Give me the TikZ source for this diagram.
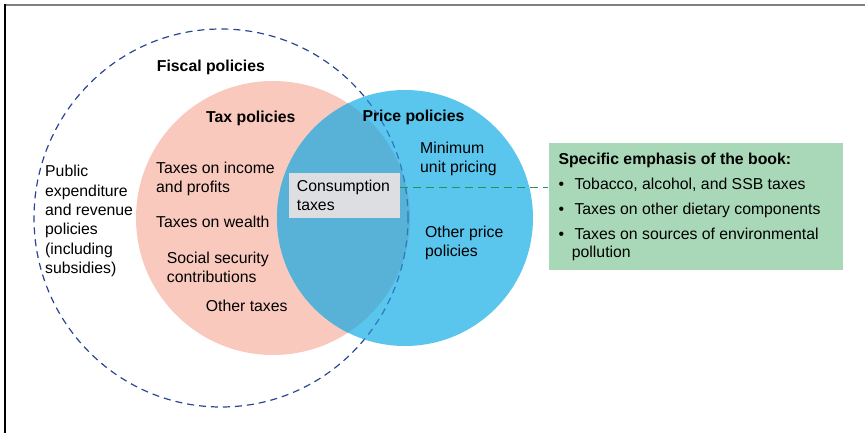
\documentclass[tikz,border=0pt]{standalone}
\usepackage{fontspec}
\setmainfont{Liberation Sans}
\usetikzlibrary{positioning}

\definecolor{taxpink}{RGB}{249,201,190}
\definecolor{priceblue}{RGB}{90,198,237}
\definecolor{bothblue}{RGB}{88,178,216}
\definecolor{fiscalnavy}{RGB}{40,70,145}
\definecolor{fiscalmid}{RGB}{45,120,190}
\definecolor{emphgreen}{RGB}{168,216,183}
\definecolor{linkgreen}{RGB}{30,150,85}
\definecolor{consgray}{RGB}{221,222,225}

\begin{document}
\begin{tikzpicture}[x=1pt, y=-1pt,
  lbl/.style={inner sep=0pt, anchor=north west, align=left,
    font=\fontsize{15.8}{19.3}\selectfont},
  head/.style={lbl, font=\fontsize{15.8}{19.3}\selectfont\bfseries},
  ring/.style={line width=1.2pt, dash pattern=on 7pt off 5pt},
  link/.style={linkgreen, line width=1.3pt, dash pattern=on 8pt off 5pt}]
  \useasboundingbox (0,0) rectangle (865,433);
  \draw[gray, line width=2pt] (5,4.7) -- (865,4.7);
  \draw[line width=1.3pt] (5,4) -- (5,433);

  \draw[ring, fiscalnavy] (221,218) ellipse [x radius=187pt, y radius=189pt];
  \fill[taxpink] (273,218) circle [radius=137pt];
  \fill[priceblue] (405,218) circle [radius=128pt];
  \begin{scope}
    \clip (273,218) circle [radius=137pt];
    \fill[bothblue] (405,218) circle [radius=128pt];
  \end{scope}
  \begin{scope}
    \clip (405,218) circle [radius=128pt];
    \draw[ring, fiscalmid] (221,218) ellipse [x radius=187pt, y radius=189pt];
  \end{scope}

  \node[head] (fiscal) at (156.7,59.6) {Fiscal policies};
  \node[head] (tax) at (206,110.9) {Tax policies};
  \node[head] (price) at (362.3,110.3) {Price policies};
  \node[lbl] (public) at (45,165.3) {Public\\expenditure\\and revenue\\policies\\(including\\subsidies)};
  \node[lbl] (income) at (156,161.9) {Taxes on income\\and profits};
  \node[lbl] (wealth) at (156,215.9) {Taxes on wealth};
  \node[lbl] (social) at (166.7,251.9) {Social security\\contributions};
  \node[lbl] (othertax) at (205.7,300.3) {Other taxes};
  \node[lbl] (minimum) at (420,141.9) {Minimum\\unit pricing};
  \node[lbl] (otherprice) at (425,225.9) {Other price\\policies};

  \node[lbl, fill=consgray, inner xsep=8.4pt, text width=94.2pt,
    minimum height=45pt, font=\fontsize{15.8}{18.6}\selectfont] (cons) at (288.3,172.7)
    {Consumption\\taxes};

  \node[fill=emphgreen, anchor=north west, minimum width=294.4pt,
    minimum height=126pt, inner sep=0pt] (emph) at (548.3,143.3) {};
  \node[head] (emphtitle) at (558.3,152.6) {Specific emphasis of the book:};
  \node[lbl] (item1) at (558.3,177.9) {\textbullet\hspace{10.5pt}Tobacco, alcohol, and SSB taxes};
  \node[lbl] (item2) at (558.3,202.6) {\textbullet\hspace{10.5pt}Taxes on other dietary components};
  \node[lbl, font=\fontsize{15.8}{18.4}\selectfont] (item3) at (558.3,227.9)
    {\textbullet\hspace{10.5pt}Taxes on sources of environmental\\\hspace{13.4pt}pollution};

  \coordinate (tap) at ([yshift=7.9pt]cons.east);
  \draw[link] (tap) -- (tap -| emph.west);
\end{tikzpicture}
\end{document}
